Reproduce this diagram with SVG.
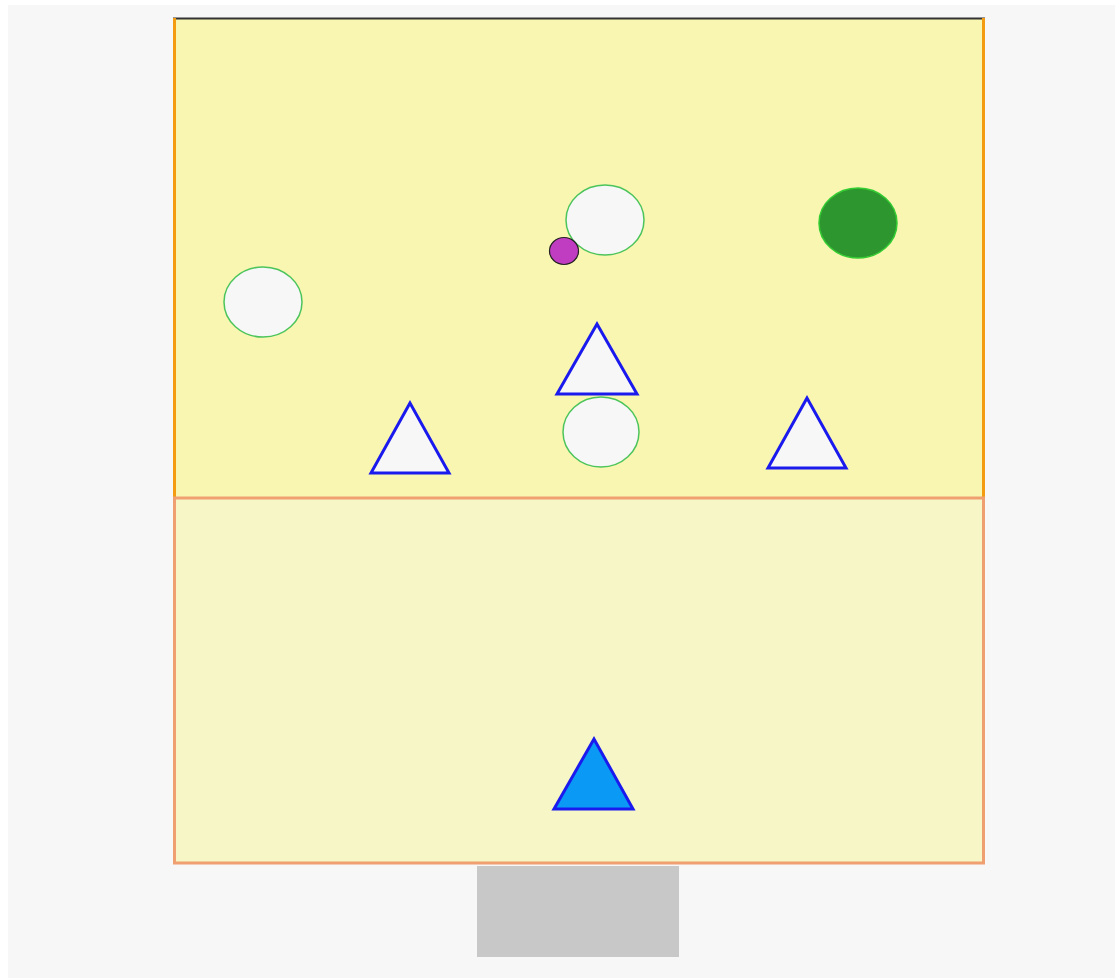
<svg xmlns="http://www.w3.org/2000/svg" width="1115" height="978" viewBox="0 0 1115 978">
<style>
.tri{fill:#f7f7f7;stroke:#1a1aee;stroke-width:3;stroke-linejoin:miter}
.ball{fill:#f7f7f7;stroke:#4cc45c;stroke-width:1.5}
</style>
<rect x="0" y="0" width="1115" height="978" fill="#ffffff"/>
<rect x="8" y="5" width="1107" height="973" fill="#f7f7f7"/>
<g id="gray-box"><rect x="477" y="866" width="202" height="91" fill="#c8c8c8"/></g>
<g id="upper-zone">
<rect x="173" y="18" width="812" height="480" fill="#f8f6b0"/>
<line x1="173" y1="18.5" x2="985" y2="18.5" stroke="#333" stroke-width="2"/>
<line x1="174.5" y1="18" x2="174.5" y2="498" stroke="#f39c12" stroke-width="3"/>
<line x1="983.5" y1="18" x2="983.5" y2="498" stroke="#f39c12" stroke-width="3"/>
</g>
<g id="lower-zone">
<rect x="174.5" y="498" width="809" height="365" fill="#f6f6c6" stroke="#f0a070" stroke-width="3"/>
</g>
<g id="ball-1"><ellipse cx="605" cy="220" rx="39" ry="35" class="ball"/></g>
<g id="ball-2"><ellipse cx="263" cy="302" rx="39" ry="35" class="ball"/></g>
<g id="ball-3"><ellipse cx="601" cy="432" rx="38" ry="35" class="ball"/></g>
<g id="green-ball"><ellipse cx="858" cy="223" rx="39" ry="35" fill="#2e962e" stroke="#33cc33" stroke-width="1.5"/></g>
<g id="purple-ball"><ellipse cx="564" cy="251" rx="14.5" ry="13.5" fill="#c03cc0" stroke="#222" stroke-width="1.2"/></g>
<g id="tri-1"><polygon points="597,324 557,394 637,394" class="tri"/></g>
<g id="tri-2"><polygon points="410,403 371,473 449,473" class="tri"/></g>
<g id="tri-3"><polygon points="807,398 768,468 846,468" class="tri"/></g>
<g id="tri-blue"><polygon points="594,739 554,809 633,809" class="tri" style="fill:#0a9af5"/></g>
</svg>
